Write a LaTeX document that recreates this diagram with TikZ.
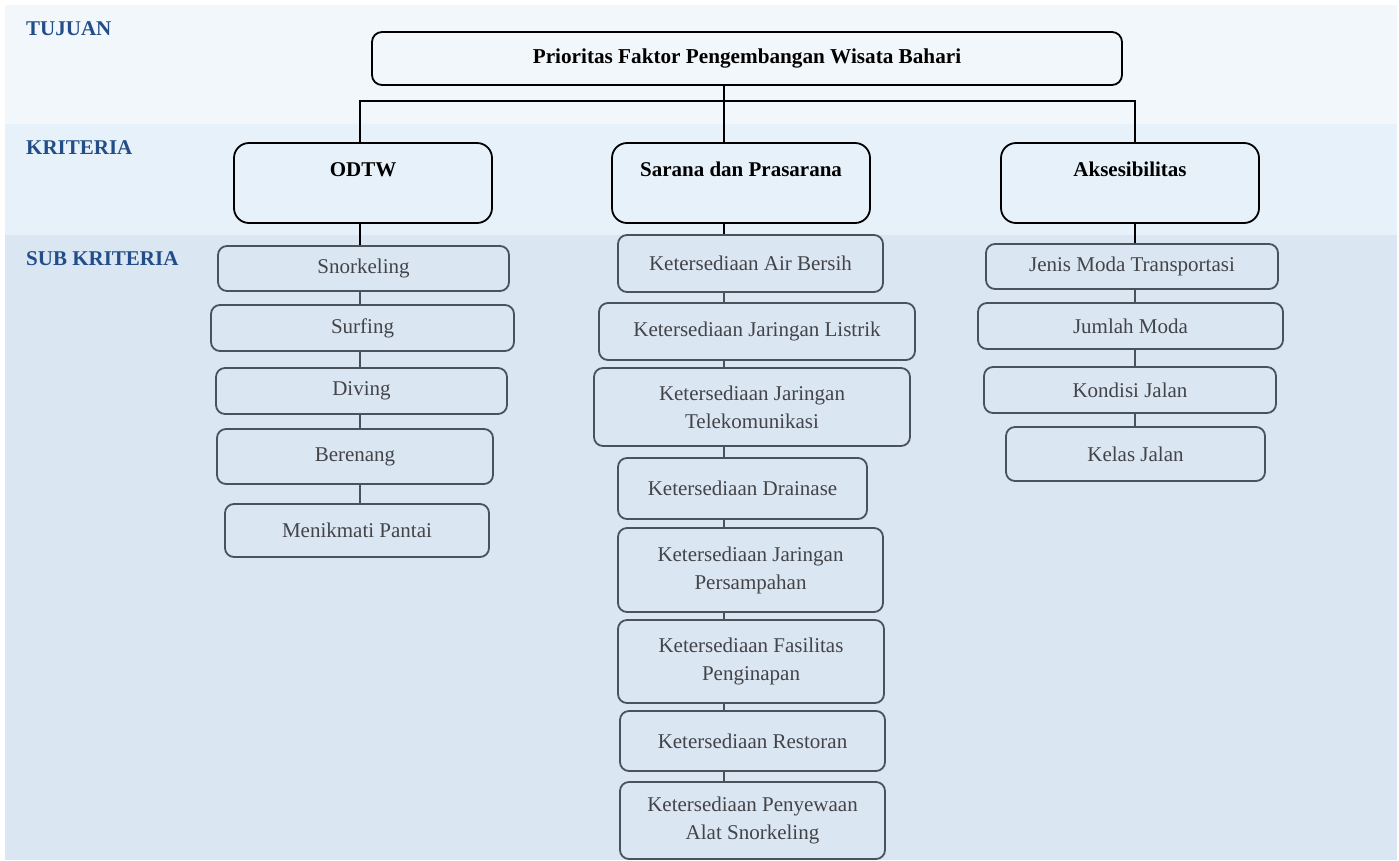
\documentclass[tikz,border=0pt]{standalone}
\usepackage{xcolor}
\usepackage{fontspec}
\setmainfont{Liberation Serif}
\usepackage{tikz}
\usetikzlibrary{positioning}
\definecolor{bandgoal}{RGB}{242,247,251}
\definecolor{bandcrit}{RGB}{231,241,249}
\definecolor{bandsub}{RGB}{219,230,243}
\definecolor{lblblue}{RGB}{34,77,136}
\definecolor{subgray}{RGB}{74,82,92}
\definecolor{subtext}{RGB}{66,68,72}
\tikzset{
  goalbox/.style={rectangle, draw=black, line width=1.8pt,
    rounded corners=10pt, inner sep=0pt,
    font=\bfseries\fontsize{21.2}{25}\selectfont},
  critbox/.style={rectangle, draw=black, line width=1.8pt,
    rounded corners=15pt, inner sep=0pt, minimum width=258pt,
    text height=33pt, text depth=47pt,
    font=\bfseries\fontsize{21}{25}\selectfont},
  subbox/.style={rectangle, draw=subgray, line width=1.8pt,
    rounded corners=9pt, inner sep=0pt, align=center, text=subtext,
    font=\fontsize{21}{28}\selectfont},
  lvllabel/.style={anchor=base west, inner sep=0pt, text=lblblue,
    font=\bfseries\fontsize{21}{25}\selectfont},
  line/.style={line width=1.4pt, color=black},
  subline/.style={line width=1.8pt, color=subgray}
}

\begin{document}
\begin{tikzpicture}[x=1pt, y=-1pt]
  \useasboundingbox (0,0) rectangle (1399,860);
  % level bands
  \fill[bandgoal] (5,5) rectangle (1397,124);
  \fill[bandcrit] (5,124) rectangle (1397,235);
  \fill[bandsub] (5,235) rectangle (1397,860);

  \node[lvllabel] (ltujuan) at (26,35) {TUJUAN};
  \node[lvllabel] (lkrit) at (26,154) {KRITERIA};
  \node[lvllabel] (lsub) at (26,265) {SUB KRITERIA};

  % goal and criteria
  \node[goalbox, minimum width=750pt, minimum height=53pt] (goal) at (747,58.5)
    {Prioritas Faktor Pengembangan Wisata Bahari};
  \node[critbox] (odtw) at (363,183) {ODTW};
  \node[critbox] (sarana) at (741,183) {Sarana dan Prasarana};
  \node[critbox] (akses) at (1130,183) {Aksesibilitas};

  % sub criteria ODTW
  \node[subbox, minimum width=291pt, minimum height=45pt] (snork) at (363.5,268.5) {Snorkeling};
  \node[subbox, minimum width=303pt, minimum height=46pt] (surf) at (362.5,328) {Surfing};
  \node[subbox, minimum width=291pt, minimum height=46pt] (diving) at (361.5,391) {Diving};
  \node[subbox, minimum width=276pt, minimum height=55pt] (renang) at (355,456.5) {Berenang};
  \node[subbox, minimum width=264pt, minimum height=53pt] (pantai) at (357,530.5) {Menikmati Pantai};

  % sub criteria sarana dan prasarana
  \node[subbox, minimum width=265pt, minimum height=57pt] (air) at (750.5,263.5) {Ketersediaan Air Bersih};
  \node[subbox, minimum width=316pt, minimum height=57pt] (listrik) at (757,331.5) {Ketersediaan Jaringan Listrik};
  \node[subbox, minimum width=316pt, minimum height=78pt] (telekom) at (752,407) {Ketersediaan Jaringan\\Telekomunikasi};
  \node[subbox, minimum width=249pt, minimum height=61pt] (drainase) at (742.5,488.5) {Ketersediaan Drainase};
  \node[subbox, minimum width=265pt, minimum height=84pt] (sampah) at (750.5,570) {Ketersediaan Jaringan\\Persampahan};
  \node[subbox, minimum width=266pt, minimum height=83pt] (inap) at (751,661.5) {Ketersediaan Fasilitas\\Penginapan};
  \node[subbox, minimum width=265pt, minimum height=60pt] (resto) at (752.5,741) {Ketersediaan Restoran};
  \node[subbox, minimum width=265pt, minimum height=77pt] (sewa) at (752.5,820.5) {Ketersediaan Penyewaan\\Alat Snorkeling};

  % sub criteria aksesibilitas
  \node[subbox, minimum width=292pt, minimum height=45pt] (jenis) at (1132,266.5) {Jenis Moda Transportasi};
  \node[subbox, minimum width=305pt, minimum height=46pt] (jumlah) at (1130.5,326) {Jumlah Moda};
  \node[subbox, minimum width=292pt, minimum height=46pt] (kondisi) at (1130,390) {Kondisi Jalan};
  \node[subbox, minimum width=259pt, minimum height=54pt] (kelas) at (1135.5,454) {Kelas Jalan};

  % tree lines
  \coordinate (ja) at (360,101);
  \coordinate (jb) at (724,101);
  \coordinate (jc) at (1135,101);
  \draw[line] (odtw.north -| ja) -- (ja) -- (jc) -- (akses.north -| jc);
  \draw[line] (goal.south -| jb) -- (sarana.north -| jb);
  \draw[line] (odtw.south -| ja) -- (snork.north -| ja);
  \draw[line] (sarana.south -| jb) -- (air.north -| jb);
  \draw[line] (akses.south -| jc) -- (jenis.north -| jc);

  \draw[subline] (snork.south -| ja) -- (surf.north -| ja)
    (surf.south -| ja) -- (diving.north -| ja)
    (diving.south -| ja) -- (renang.north -| ja)
    (renang.south -| ja) -- (pantai.north -| ja);
  \draw[subline] (air.south -| jb) -- (listrik.north -| jb)
    (listrik.south -| jb) -- (telekom.north -| jb)
    (telekom.south -| jb) -- (drainase.north -| jb)
    (drainase.south -| jb) -- (sampah.north -| jb)
    (sampah.south -| jb) -- (inap.north -| jb)
    (inap.south -| jb) -- (resto.north -| jb)
    (resto.south -| jb) -- (sewa.north -| jb);
  \draw[subline] (jenis.south -| jc) -- (jumlah.north -| jc)
    (jumlah.south -| jc) -- (kondisi.north -| jc)
    (kondisi.south -| jc) -- (kelas.north -| jc);
\end{tikzpicture}
\end{document}
